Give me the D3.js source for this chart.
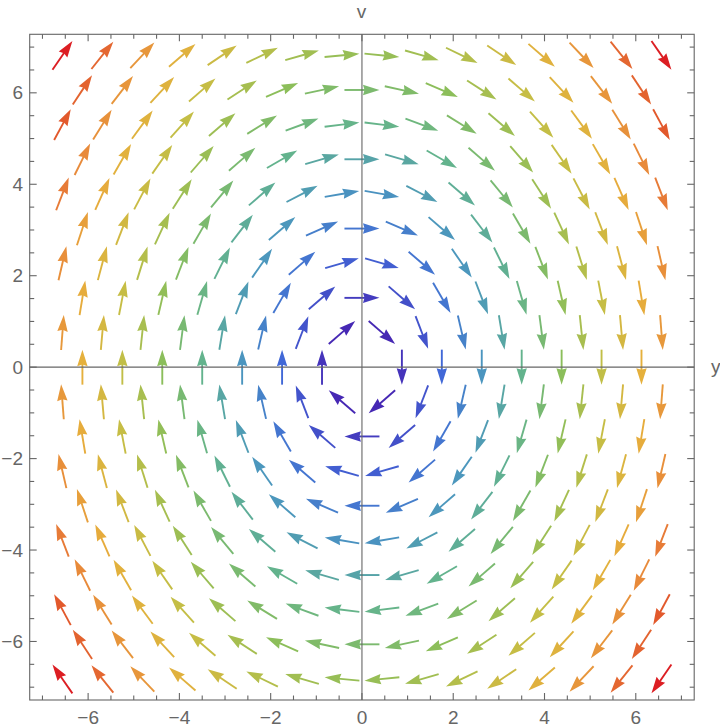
<!DOCTYPE html>
<html>
<head>
<meta charset="utf-8">
<script src="https://cdn.jsdelivr.net/npm/d3@7/dist/d3.min.js"></script>
<style>
  html, body { margin: 0; padding: 0; background: #fff; }
  svg { display: block; }
</style>
</head>
<body>
<svg id="chart" width="720" height="728"></svg>
<script>
// ---- Data ----
// Hexagonal sample grid: rows of v, alternating column sets of y
const rowV = [-6.82, -6.0622, -5.3044, -4.5466, -3.7888, -3.0311, -2.2733, -1.5155, -0.7578, 0,
              0.7578, 1.5155, 2.2733, 3.0311, 3.7888, 4.5466, 5.3044, 6.0622, 6.82];
const rowIsOffset = [true, false, true, false, true, false, true, false, true, false,
                     true, false, true, false, true, false, true, false, true];
const evenColsY = [-6.125, -5.25, -4.375, -3.5, -2.625, -1.75, -0.875, 0, 0.875, 1.75, 2.625, 3.5, 4.375, 5.25, 6.125];
const oddColsY = [-6.5625, -5.6875, -4.8125, -3.9375, -3.0625, -2.1875, -1.3125, -0.4375,
                  0.4375, 1.3125, 2.1875, 3.0625, 3.9375, 4.8125, 5.6875, 6.5625];
// Vector field plotted: (dy, dv) = (v, -k*y), k
const kSpring = 1.5;
function field(y, v) { return [v, -kSpring * y]; }

const xTicksMajor = [-6, -4, -2, 0, 2, 4, 6];
const yTicksMajor = [-6, -4, -2, 0, 2, 4, 6];
const xTickLabels = ["\u22126", "\u22124", "\u22122", "0", "2", "4", "6"];
const yTickLabels = ["\u22126", "\u22124", "\u22122", "0", "2", "4", "6"];
const minorTicks = [-7, -6.5, -5.5, -5, -4.5, -3.5, -3, -2.5, -1.5, -1, -0.5, 0.5, 1, 1.5, 2.5, 3, 3.5, 4.5, 5, 5.5, 6.5, 7];
const colorStops = [0, 0.15, 0.27, 0.39, 0.51, 0.63, 0.75, 0.85, 0.93, 1];
const colorValues = ["#4628b4", "#4169d7", "#4b96be", "#64b48c", "#8cbe5a", "#c3be46", "#e6af3c", "#e8873a", "#e2582c", "#dc1e23"];

// ---- Layout ----
const svg = d3.select("#chart");
const L = 29.7, R = 694.2, T = 34.3, B = 700;
const x = d3.scaleLinear().domain([-7.28, 7.28]).range([L, R]);
const y = d3.scaleLinear().domain([-7.28, 7.28]).range([B, T]);
const gray = "#666666";

// Build points
const pts = [];
rowV.forEach((v, i) => {
  const cols = rowIsOffset[i] ? oddColsY : evenColsY;
  cols.forEach(c => {
    const f = field(c, v);
    const m = Math.hypot(f[0], f[1]);
    if (m > 1e-9) pts.push({ y: c, v: v, dx: f[0], dv: f[1], m: m });
  });
});
const mMin = d3.min(pts, d => d.m), mMax = d3.max(pts, d => d.m);
const tScale = d3.scaleLinear().domain([mMin, mMax]).range([0, 1]);
const color = d3.scaleLinear().domain(colorStops).range(colorValues).interpolate(d3.interpolateRgb);

// Arrows
const arrowLen = 35, headLen = 16.5, headHalf = 5.2, shaftW = 1.9;
const ag = svg.append("g");
pts.forEach(p => {
  const cx = x(p.y), cy = y(p.v);
  const ux = p.dx / p.m, uy = -p.dv / p.m; // screen direction
  const px = -uy, py = ux;
  const tx = cx - ux * arrowLen / 2, ty = cy - uy * arrowLen / 2;
  const hx = cx + ux * arrowLen / 2, hy = cy + uy * arrowLen / 2;
  const bx = hx - ux * headLen, by = hy - uy * headLen;
  const col = color(tScale(p.m));
  ag.append("line")
    .attr("x1", tx).attr("y1", ty)
    .attr("x2", bx + ux * 3).attr("y2", by + uy * 3)
    .attr("stroke", col).attr("stroke-width", shaftW);
  const nx = hx - ux * headLen * 0.9, ny = hy - uy * headLen * 0.9;
  ag.append("path")
    .attr("d", `M${hx},${hy}L${bx + px * headHalf},${by + py * headHalf}L${nx},${ny}L${bx - px * headHalf},${by - py * headHalf}Z`)
    .attr("fill", col);
});

// Axes through origin
svg.append("line").attr("x1", L).attr("x2", R).attr("y1", y(0)).attr("y2", y(0))
  .attr("stroke", gray).attr("stroke-width", 1.1);
svg.append("line").attr("x1", x(0)).attr("x2", x(0)).attr("y1", T).attr("y2", B)
  .attr("stroke", gray).attr("stroke-width", 1.1);

// Frame
svg.append("rect").attr("x", L).attr("y", T).attr("width", R - L).attr("height", B - T)
  .attr("fill", "none").attr("stroke", gray).attr("stroke-width", 1.1);

// Ticks (inward on all four sides)
const tg = svg.append("g").attr("stroke", gray).attr("stroke-width", 1.1);
const majLen = 7, minLen = 4.5;
function ticks(vals, len) {
  vals.forEach(t => {
    const X = x(t), Y = y(t);
    tg.append("line").attr("x1", X).attr("x2", X).attr("y1", B).attr("y2", B - len);
    tg.append("line").attr("x1", X).attr("x2", X).attr("y1", T).attr("y2", T + len);
    tg.append("line").attr("y1", Y).attr("y2", Y).attr("x1", L).attr("x2", L + len);
    tg.append("line").attr("y1", Y).attr("y2", Y).attr("x1", R).attr("x2", R - len);
  });
}
ticks(xTicksMajor, majLen);
ticks(minorTicks, minLen);

// Tick labels
const font = "'Liberation Sans', Arial, sans-serif";
svg.append("g").selectAll("text").data(xTicksMajor).join("text")
  .attr("x", d => x(d)).attr("y", 723.5)
  .attr("text-anchor", "middle")
  .attr("font-family", font).attr("font-size", 19).attr("fill", gray)
  .text((d, i) => xTickLabels[i]);
svg.append("g").selectAll("text").data(yTicksMajor).join("text")
  .attr("x", 23).attr("y", d => y(d)).attr("dy", "0.35em")
  .attr("text-anchor", "end")
  .attr("font-family", font).attr("font-size", 19).attr("fill", gray)
  .text((d, i) => yTickLabels[i]);

// Axis labels
svg.append("text").attr("x", 361.5).attr("y", 18).attr("text-anchor", "middle")
  .attr("font-family", font).attr("font-size", 19).attr("fill", gray).text("v");
svg.append("text").attr("x", 711).attr("y", 372.5).attr("text-anchor", "start")
  .attr("font-family", font).attr("font-size", 19).attr("fill", gray).text("y");
</script>
</body>
</html>
